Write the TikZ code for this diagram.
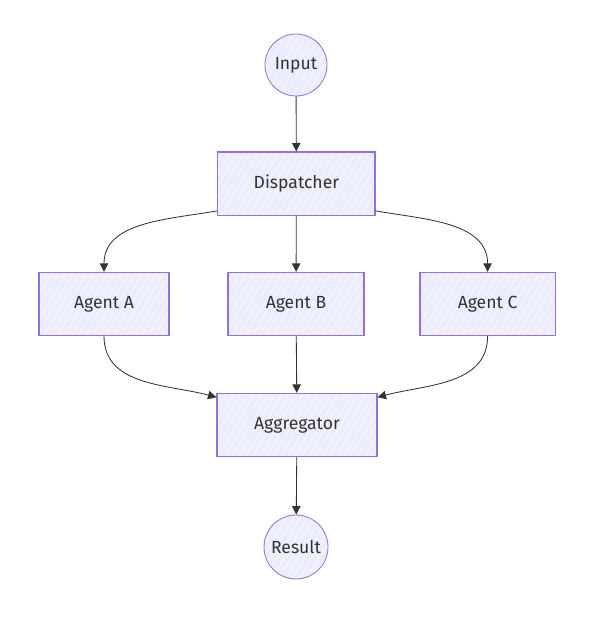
\documentclass[tikz,border=0pt]{standalone}
\usepackage{fontspec}
\setmainfont{Fira Sans}
\usepackage{xcolor}
\usepackage{tikz}
\usetikzlibrary{arrows.meta, positioning, patterns.meta}
\definecolor{mmfill}{HTML}{ECECFF}
\definecolor{mmline}{HTML}{9370DB}
\definecolor{mmtext}{HTML}{333333}

\begin{document}
\begin{tikzpicture}[
  every node/.style={font=\fontsize{12.5}{15}\selectfont, text=mmtext},
  hatched/.style={preaction={fill=mmfill},
                  preaction={pattern={Lines[angle=60,distance=4pt,line width=0.5pt]}, pattern color=white}},
  term/.style={circle, draw=mmline, line width=0.6pt, hatched,
               minimum size=1.55cm, inner sep=0pt},
  proc/.style={rectangle, draw=mmline, line width=0.8pt, hatched,
               minimum height=1.58cm, align=center},
  arrow/.style={-{Triangle[length=6pt,width=6pt]}, color=mmtext, line width=0.6pt},
]
\useasboundingbox (0,0) rectangle (14.825,-15.425);

% ── Entry ──
\node[term] (in) at (7.4,-1.625) {Input};
\node[proc, minimum width=3.93cm] (disp) at (7.41,-4.59) {Dispatcher};

% ── Agents ──
\node[proc, minimum width=3.25cm] (ag1) at (2.6,-7.6) {Agent A};
\node[proc, minimum width=3.4cm]  (ag2) at (7.4,-7.6) {Agent B};
\node[proc, minimum width=3.38cm] (ag3) at (12.19,-7.6) {Agent C};

% ── Exit ──
\node[proc, minimum width=4cm] (agg) at (7.425,-10.625) {Aggregator};
\node[term, minimum size=1.6cm] (res) at (7.4,-13.675) {Result};

\foreach \a/\b in {in/disp, disp/ag2, ag2/agg, agg/res}
  \draw[arrow] (\a) -- (\b);

\draw[arrow] (disp.199) to[out=190, in=90] (ag1.north);
\draw[arrow] (disp.-19) to[out=-10, in=90] (ag3.north);
\draw[arrow] (ag1.south) to[out=-90, in=165] (agg.161);
\draw[arrow] (ag3.south) to[out=-90, in=15] (agg.19);

\end{tikzpicture}
\end{document}
